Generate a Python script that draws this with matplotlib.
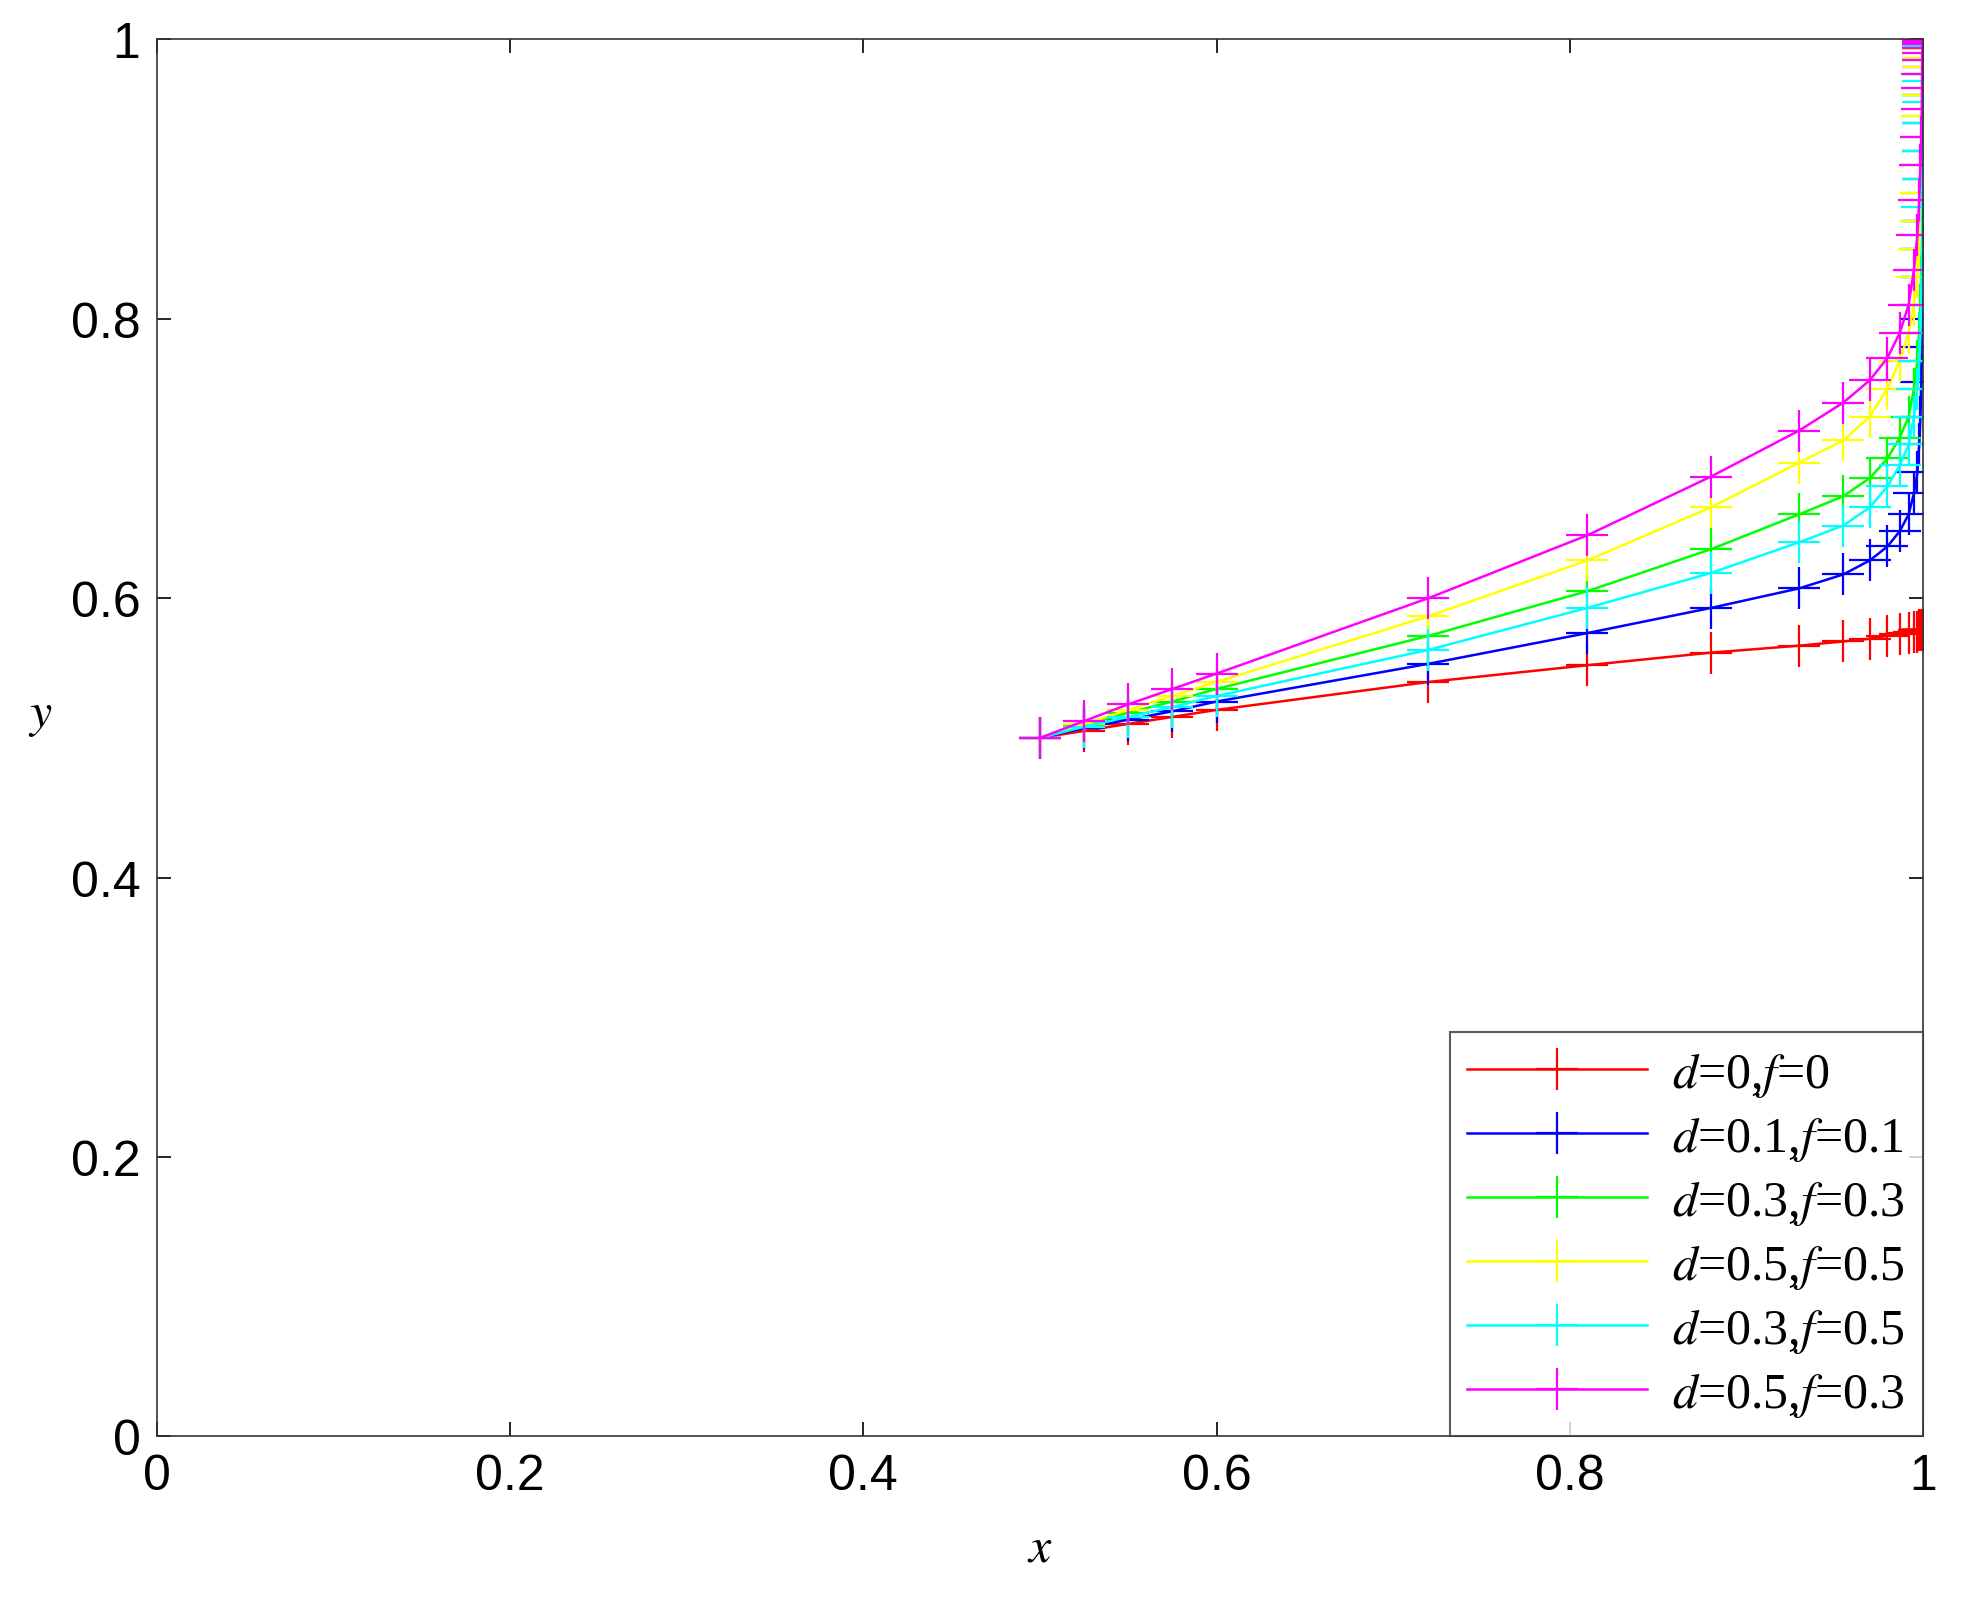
import matplotlib
matplotlib.use("Agg")
import matplotlib.pyplot as plt

plt.rcParams['font.family'] = ['Liberation Sans', 'DejaVu Sans']
plt.rcParams['mathtext.fontset'] = 'stix'

# shared x trajectory
x = [0.5, 0.525, 0.55, 0.575, 0.6, 0.72, 0.81, 0.88, 0.93, 0.955, 0.97, 0.98, 0.987,
     0.992, 0.995, 0.997, 0.998, 0.9987, 0.9992, 0.9995, 0.9997, 0.9998, 0.9999,
     0.99993, 0.99996, 0.99998, 0.99999, 1.0, 1.0, 1.0]

y_red = [0.5, 0.505, 0.51, 0.515, 0.52, 0.54, 0.552, 0.561, 0.566, 0.569, 0.571, 0.573,
         0.574, 0.575, 0.576, 0.576, 0.577, 0.577, 0.577, 0.577, 0.577, 0.577, 0.577,
         0.577, 0.577, 0.577, 0.577, 0.577, 0.577, 0.577]
y_blue = [0.5, 0.507, 0.513, 0.519, 0.526, 0.553, 0.575, 0.593, 0.607, 0.617, 0.627, 0.637,
          0.648, 0.66, 0.675, 0.69, 0.71, 0.73, 0.755, 0.78, 0.80, 0.83, 0.85, 0.87, 0.9,
          0.92, 0.94, 0.96, 0.98, 1.0]
y_green = [0.5, 0.509, 0.518, 0.526, 0.535, 0.573, 0.605, 0.635, 0.66, 0.673, 0.686, 0.70,
           0.715, 0.73, 0.75, 0.77, 0.79, 0.81, 0.83, 0.85, 0.87, 0.89, 0.91, 0.93, 0.945,
           0.96, 0.975, 0.985, 0.995, 1.0]
y_yellow = [0.5, 0.51, 0.52, 0.53, 0.54, 0.587, 0.627, 0.665, 0.697, 0.713, 0.73, 0.75,
            0.77, 0.79, 0.81, 0.83, 0.85, 0.87, 0.89, 0.91, 0.93, 0.945, 0.96, 0.97, 0.98,
            0.987, 0.993, 0.997, 0.999, 1.0]
y_cyan = [0.5, 0.508, 0.515, 0.522, 0.53, 0.563, 0.593, 0.618, 0.64, 0.652, 0.665, 0.68,
          0.695, 0.71, 0.73, 0.75, 0.77, 0.79, 0.81, 0.835, 0.86, 0.88, 0.90, 0.92, 0.94,
          0.955, 0.97, 0.985, 0.995, 1.0]
y_magenta = [0.5, 0.512, 0.524, 0.535, 0.546, 0.60, 0.645, 0.687, 0.72, 0.74, 0.756, 0.772,
             0.79, 0.81, 0.835, 0.86, 0.885, 0.91, 0.93, 0.95, 0.965, 0.975, 0.985, 0.99,
             0.994, 0.997, 0.998, 0.999, 1.0, 1.0]

series = [y_red, y_blue, y_green, y_yellow, y_cyan, y_magenta]
colors = ['#ff0000', '#0000ff', '#00ff00', '#ffff00', '#00ffff', '#ff00ff']
labels = [r'$d$=0,$f$=0', r'$d$=0.1,$f$=0.1', r'$d$=0.3,$f$=0.3',
          r'$d$=0.5,$f$=0.5', r'$d$=0.3,$f$=0.5', r'$d$=0.5,$f$=0.3']

fig = plt.figure(figsize=(19.64, 16.15), dpi=100)
ax = fig.add_axes([0.08, 0.11, 0.899, 0.865])

for ys, c, lab in zip(series, colors, labels):
    ax.plot(x, ys, color=c, marker='+', markersize=30, markeredgewidth=1.6,
            linewidth=1.8, label=lab)

ax.set_xlim(0, 1)
ax.set_ylim(0, 1)
ax.set_xticks([0, 0.2, 0.4, 0.6, 0.8, 1])
ax.set_xticklabels(['0', '0.2', '0.4', '0.6', '0.8', '1'])
ax.set_yticks([0, 0.2, 0.4, 0.6, 0.8, 1])
ax.set_yticklabels(['0', '0.2', '0.4', '0.6', '0.8', '1'])
ax.tick_params(direction='in', top=True, right=True, labelsize=36, length=10,
               width=1.2, pad=12)
for s in ax.spines.values():
    s.set_linewidth(1.2)
    s.set_color('#333333')

ax.set_xlabel(r'$x$', fontsize=36, labelpad=18)
ax.set_ylabel(r'$y$', fontsize=36, rotation=0, labelpad=22)

leg = ax.legend(loc='lower right', frameon=True, fancybox=False,
                edgecolor='#333333', borderaxespad=0, handlelength=3.6,
                labelspacing=0.3, borderpad=0.35, handletextpad=0.5,
                prop={'family': 'Liberation Serif', 'size': 36})
leg.get_frame().set_linewidth(1.5)

fig.savefig('out.png', dpi=100, facecolor='white')
